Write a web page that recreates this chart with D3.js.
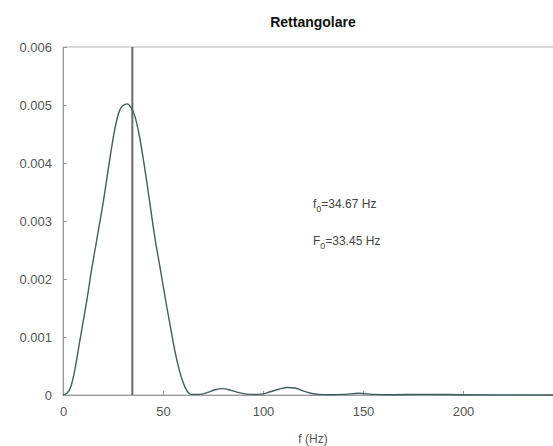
<!DOCTYPE html>
<html>
<head>
<meta charset="utf-8">
<script src="https://cdn.jsdelivr.net/npm/d3@7"></script>
<style>
  html, body { margin: 0; padding: 0; background: #fff; }
  svg { display: block; font-family: "Liberation Sans", Arial, sans-serif; }
</style>
</head>
<body>
<svg id="chart" width="553" height="446"></svg>
<script>
// Spectrum magnitude of a rectangular pulse
const freqHz = [0, 2, 4, 6, 8, 10, 12, 14, 16, 18, 20, 22, 24, 26, 28, 30, 32, 34, 36, 38,
  40, 42, 44, 46, 48, 50, 52, 54, 56, 58, 60, 62, 64, 68, 72, 76, 80, 84, 88, 92,
  96, 100, 104, 108, 112, 116, 120, 124, 128, 132, 140, 148, 156, 164, 180, 200, 250];
const magnitude = [0, 0.00003, 0.00015, 0.00045, 0.00085, 0.00125, 0.00165, 0.0021, 0.0025, 0.0029,
  0.0033, 0.00375, 0.0042, 0.0046, 0.00488, 0.00499, 0.00502, 0.00496, 0.0048, 0.0045,
  0.0041, 0.00365, 0.00317, 0.0027, 0.0023, 0.0019, 0.0015, 0.00112, 0.00075, 0.00045,
  0.00022, 0.00007, 0.00001, 0.00001, 0.00004, 0.00009, 0.00011, 0.00008, 0.00004, 0.000015,
  0.00001, 0.00002, 0.00006, 0.0001, 0.00013, 0.00012, 0.00007, 0.00003, 0.00001, 0.000005,
  0.00001, 0.00003, 0.00001, 0.000005, 0.00001, 0.000005, 0];

const xTicks = [0, 50, 100, 150, 200];
const yTicks = [0, 0.001, 0.002, 0.003, 0.004, 0.005, 0.006];

const f0 = 34.67;   // frequency marked by the vertical line
const F0 = 33.45;
const title = "Rettangolare";
const xLabel = "f (Hz)";

const svg = d3.select("#chart");
const margin = { left: 63, top: 47, right: 563, bottom: 395 };

const x = d3.scaleLinear().domain([0, 250]).range([margin.left, margin.right]);
const y = d3.scaleLinear().domain([0, 0.006]).range([margin.bottom, margin.top]);

svg.append("rect").attr("width", 553).attr("height", 446).attr("fill", "#fff");

// Frame box
svg.append("rect")
  .attr("x", margin.left).attr("y", margin.top)
  .attr("width", margin.right - margin.left).attr("height", margin.bottom - margin.top)
  .attr("fill", "none").attr("stroke", "#b5b5b5").attr("stroke-width", 1);

// Axes with inward ticks
const yAxis = d3.axisLeft(y).tickValues(yTicks)
  .tickFormat(d => d === 0 ? "0" : d3.format(".3f")(d))
  .tickSizeInner(-4).tickSizeOuter(0).tickPadding(11);
const gy = svg.append("g").attr("transform", `translate(${margin.left},0)`).call(yAxis);

const xAxis = d3.axisBottom(x).tickValues(xTicks).tickFormat(d3.format("d"))
  .tickSizeInner(-4).tickSizeOuter(0).tickPadding(12);
const gx = svg.append("g").attr("transform", `translate(0,${margin.bottom})`).call(xAxis);

[gx, gy].forEach(g => {
  g.select(".domain").attr("stroke", "#9a9a9a");
  g.selectAll(".tick line").attr("stroke", "#9a9a9a");
  g.selectAll(".tick text").attr("fill", "#555").attr("font-size", 13);
});

// Marker at f0
svg.append("line")
  .attr("x1", x(f0)).attr("x2", x(f0))
  .attr("y1", margin.top).attr("y2", margin.bottom)
  .attr("stroke", "#6a6a6a").attr("stroke-width", 2);

// Spectrum curve
const line = d3.line()
  .x((d, i) => x(freqHz[i]))
  .y(d => y(d))
  .curve(d3.curveMonotoneX);
svg.append("path")
  .datum(magnitude)
  .attr("d", line)
  .attr("fill", "none")
  .attr("stroke", "#3f5f60")
  .attr("stroke-width", 1.4);

// Title and axis label
svg.append("text")
  .attr("x", (margin.left + margin.right) / 2).attr("y", 27)
  .attr("text-anchor", "middle").attr("font-weight", "bold")
  .attr("font-size", 14).attr("fill", "#111").text(title);

svg.append("text")
  .attr("x", (margin.left + margin.right) / 2).attr("y", 443)
  .attr("text-anchor", "middle").attr("font-size", 12).attr("fill", "#555").text(xLabel);

// Annotations with subscripts
function annot(yPos, sym, val) {
  const t = svg.append("text").attr("x", 313).attr("y", yPos)
    .attr("font-size", 12).attr("fill", "#444");
  t.append("tspan").text(sym);
  t.append("tspan").attr("dy", 4).attr("font-size", 9).text("0");
  t.append("tspan").attr("dy", -4).text("=" + val + " Hz");
}
annot(208, "f", f0.toFixed(2));
annot(245, "F", F0.toFixed(2));
</script>
</body>
</html>
